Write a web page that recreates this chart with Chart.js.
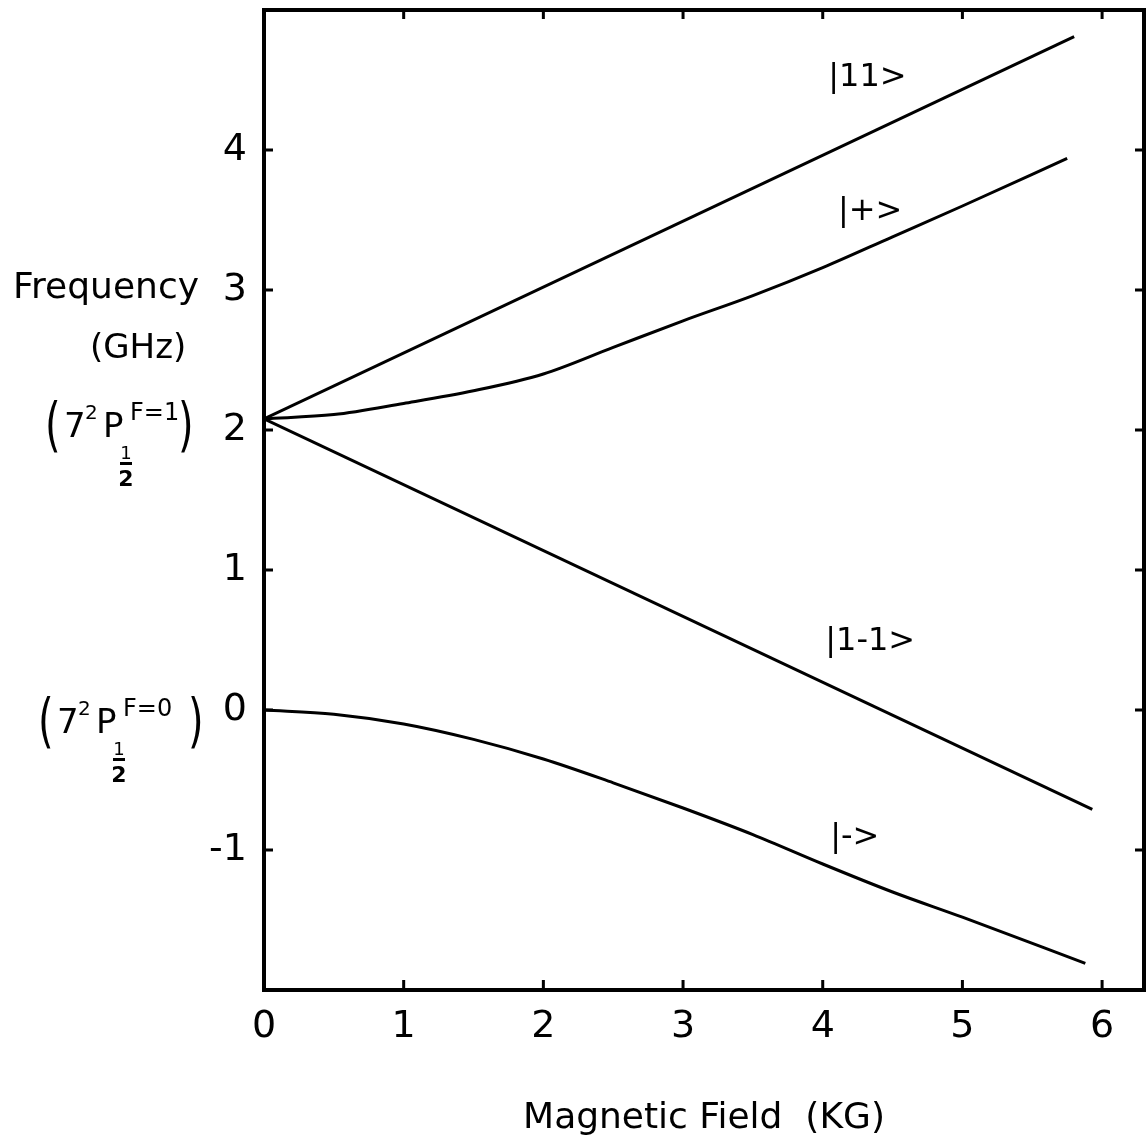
<!DOCTYPE html>
<html>
<head>
<meta charset="utf-8">
<script src="https://cdn.jsdelivr.net/npm/chart.js@4.4.1/dist/chart.umd.min.js"></script>
<style>
  body { margin: 0; background: #fff; }
  #wrap { width: 1148px; height: 1146px; }
</style>
</head>
<body>
<div id="wrap"><canvas id="myChart" width="1148" height="1146"></canvas></div>
<script>
// values (field in KG, frequency in GHz)
const field11 = [0, 5.8];
const freq11 = [2.08, 4.81];

const fieldPlus = [0, 0.5, 1, 1.5, 2, 2.5, 3, 3.5, 4, 4.5, 5, 5.75];
const freqPlus = [2.08, 2.11, 2.19, 2.28, 2.40, 2.59, 2.78, 2.96, 3.16, 3.38, 3.60, 3.94];

const field1m1 = [0, 5.93];
const freq1m1 = [2.08, -0.71];

const fieldMinus = [0, 0.5, 1, 1.5, 2, 2.5, 3, 3.5, 4, 4.5, 5, 5.88];
const freqMinus = [0, -0.03, -0.10, -0.21, -0.35, -0.52, -0.70, -0.89, -1.10, -1.30, -1.48, -1.81];

const xTickValues = [0, 1, 2, 3, 4, 5, 6];
const yTickValues = [-1, 0, 1, 2, 3, 4];

const stateNames = ['|11>', '|+>', '|1-1>', '|->'];
const stateAtField = [4.32, 4.34, 4.34, 4.23];
const stateAtFreq = [4.52, 3.56, 0.49, -0.91];

function pts(xs, ys) {
    return xs.map((x, i) => ({ x: x, y: ys[i] }));
}

function curve(label, xs, ys) {
    return {
        label: label,
        data: pts(xs, ys),
        showLine: true,
        borderColor: '#000',
        backgroundColor: '#000',
        borderWidth: 3,
        pointRadius: 0,
        cubicInterpolationMode: 'monotone',
    };
}

const FONT = "'DejaVu Sans', sans-serif";

// frame, inward tick marks and hand lettered labels
const paperPlugin = {
    id: 'paper',
    beforeDraw(chart) {
        const ctx = chart.ctx;
        ctx.save();
        ctx.fillStyle = '#fff';
        ctx.fillRect(0, 0, chart.width, chart.height);
        ctx.restore();
    },
    afterDraw(chart) {
        const ctx = chart.ctx;
        const a = chart.chartArea;
        const xs = chart.scales.x;
        const ys = chart.scales.y;
        ctx.save();
        ctx.strokeStyle = '#000';
        ctx.lineWidth = 4;
        ctx.strokeRect(a.left, a.top, a.right - a.left, a.bottom - a.top);

        ctx.lineWidth = 3;
        ctx.beginPath();
        xTickValues.slice(1).forEach(v => {
            const px = xs.getPixelForValue(v);
            ctx.moveTo(px, a.bottom); ctx.lineTo(px, a.bottom - 10);
            ctx.moveTo(px, a.top); ctx.lineTo(px, a.top + 9);
        });
        yTickValues.forEach(v => {
            const py = ys.getPixelForValue(v);
            ctx.moveTo(a.left, py); ctx.lineTo(a.left + 9, py);
            ctx.moveTo(a.right, py); ctx.lineTo(a.right - 9, py);
        });
        ctx.stroke();

        ctx.fillStyle = '#000';
        ctx.textBaseline = 'middle';
        ctx.textAlign = 'center';
        ctx.font = '32px ' + FONT;
        stateNames.forEach((s, i) => {
            ctx.fillText(s, xs.getPixelForValue(stateAtField[i]), ys.getPixelForValue(stateAtFreq[i]));
        });

        ctx.textBaseline = 'alphabetic';
        ctx.textAlign = 'left';
        ctx.font = '36px ' + FONT;
        ctx.fillText('Frequency', 13, 298);
        ctx.font = '34px ' + FONT;
        ctx.fillText('(GHz)', 90, 358);

        drawTerm(ctx, 'F=1', 47, ys.getPixelForValue(2) + 7, 180);
        drawTerm(ctx, 'F=0', 40, ys.getPixelForValue(0) + 23, 190);
        ctx.restore();
    }
};

function drawTerm(ctx, f, left, base, closeX) {
    ctx.save();
    ctx.textAlign = 'left';
    ctx.textBaseline = 'alphabetic';
    // tall parentheses
    [[left, '('], [closeX, ')']].forEach(p => {
        ctx.save();
        ctx.translate(p[0], base + 8);
        ctx.scale(1, 1.45);
        ctx.font = '40px ' + FONT;
        ctx.fillText(p[1], -2, 0);
        ctx.restore();
    });

    ctx.font = '34px ' + FONT;
    ctx.fillText('7', left + 17, base);
    ctx.font = '20px ' + FONT;
    ctx.fillText('2', left + 38, base - 18);
    ctx.font = '34px ' + FONT;
    ctx.fillText('P', left + 56, base);
    ctx.font = '24px ' + FONT;
    ctx.fillText(f, left + 83, base - 17);

    // one-half subscript
    const cx = left + 79;
    ctx.textAlign = 'center';
    ctx.font = '18px ' + FONT;
    ctx.fillText('1', cx, base + 22);
    ctx.fillRect(cx - 6, base + 25, 12, 3);
    ctx.font = 'bold 22px ' + FONT;
    ctx.fillText('2', cx, base + 49);
    ctx.restore();
}

function noPad(scale) {
    scale.paddingTop = 0;
    scale.paddingBottom = 0;
    scale.paddingLeft = 0;
    scale.paddingRight = 0;
}

const data = {
    datasets: [
        curve('|11>', field11, freq11),
        curve('|+>', fieldPlus, freqPlus),
        curve('|1-1>', field1m1, freq1m1),
        curve('|->', fieldMinus, freqMinus),
    ]
};

const config = {
    type: 'scatter',
    data: data,
    options: {
        responsive: false,
        animation: false,
        layout: { padding: { top: 10, right: 4, left: 0, bottom: 0 } },
        plugins: {
            legend: { display: false },
            tooltip: { enabled: false },
        },
        scales: {
            x: {
                type: 'linear',
                min: 0,
                max: 6.3,
                grid: { display: false, drawTicks: false },
                border: { display: false },
                ticks: {
                    stepSize: 1,
                    autoSkip: false,
                    maxRotation: 0,
                    includeBounds: false,
                    padding: 14,
                    color: '#000',
                    font: { family: FONT, size: 38 },
                    callback: v => xTickValues.includes(v) ? String(v) : '',
                },
                title: {
                    display: true,
                    text: 'Magnetic Field  (KG)',
                    color: '#000',
                    font: { family: FONT, size: 36 },
                    padding: { top: 0, bottom: 6 },
                },
                afterFit(scale) { scale.height = 156; noPad(scale); },
            },
            y: {
                type: 'linear',
                min: -2,
                max: 5,
                grid: { display: false, drawTicks: false },
                border: { display: false },
                ticks: {
                    stepSize: 1,
                    autoSkip: false,
                    padding: 17,
                    color: '#000',
                    font: { family: FONT, size: 38 },
                    callback: v => yTickValues.includes(v) ? String(v) : '',
                },
                afterFit(scale) { scale.width = 264; noPad(scale); },
            },
        },
    },
    plugins: [paperPlugin],
};

const myChart = new Chart(document.getElementById('myChart'), config);
</script>
</body>
</html>
